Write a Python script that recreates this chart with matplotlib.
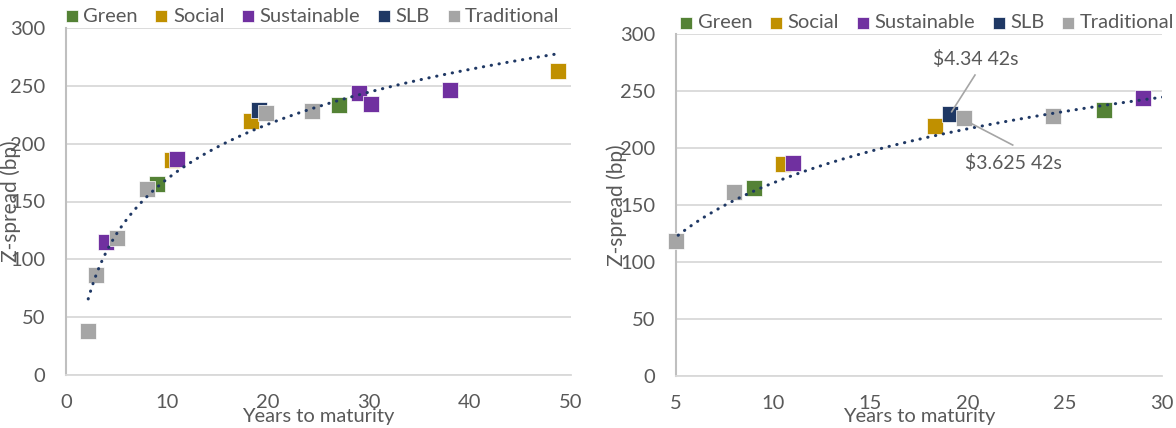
import numpy as np
import matplotlib as mpl
mpl.use('Agg')
from matplotlib import pyplot as plt

# years to maturity / z-spread (bp) by bond type
green_x = [9.0, 27.0]
green_y = [165, 233]
social_x = [10.5, 18.3, 48.7]
social_y = [186, 219.5, 263]
sust_x = [4.0, 11.0, 29.0, 30.2, 38.0]
sust_y = [115, 187, 244, 234, 246]
slb_x = [19.1]
slb_y = [229.5]
trad_x = [2.2, 3.0, 5.0, 8.0, 19.8, 24.4]
trad_y = [38, 86.5, 118.5, 161, 226.5, 228]

series = [('Green', green_x, green_y, '#548235'),
          ('Social', social_x, social_y, '#C09000'),
          ('Sustainable', sust_x, sust_y, '#7030A0'),
          ('SLB', slb_x, slb_y, '#1F3864'),
          ('Traditional', trad_x, trad_y, '#A5A5A5')]

grey = '#595959'
plt.rc('font', family=['Lato', 'DejaVu Sans'], size=14)

W, H = 1176, 428
fig = plt.figure(figsize=(W/100, H/100), dpi=100)
ax1 = fig.add_axes([66/W, 1-375/H, (571-66)/W, (375-28)/H])
ax2 = fig.add_axes([676/W, 1-376/H, (1162-676)/W, (376-34)/H])

# one logarithmic trendline through every bond
all_x = np.concatenate([s[1] for s in series])
all_y = np.concatenate([s[2] for s in series])
b, a = np.polyfit(np.log(all_x), all_y, 1)


def draw(ax, xmin, xmax, ylab_x, leg_x):
    for name, xs, ys, col in series:
        xs = np.array(xs)
        ys = np.array(ys)
        keep = (xs >= xmin) & (xs <= xmax)
        ax.scatter(xs[keep], ys[keep], marker='s', s=121, color=col,
                   edgecolor='white', linewidth=0.5, label=name, zorder=3,
                   clip_on=False)
    tx = np.linspace(all_x.min(), all_x.max(), 300)
    ax.plot(tx, a + b*np.log(tx), color='#1F3864', linewidth=2.2,
            linestyle=(0, (0.1, 2.5)), dash_capstyle='round', zorder=4)

    ax.set_xlim(xmin, xmax)
    ax.set_ylim(0, 300)
    ax.set_yticks(range(0, 301, 50))
    ax.grid(axis='y', color='#D9D9D9', linewidth=1.3)
    ax.set_axisbelow(True)
    for s in ['top', 'right']:
        ax.spines[s].set_visible(False)
    ax.spines['left'].set_color('#BFBFBF')
    ax.spines['bottom'].set_color('#D9D9D9')
    ax.spines['left'].set_linewidth(1.5)
    ax.spines['bottom'].set_linewidth(1.3)
    ax.tick_params(length=0, colors=grey, labelsize=14.5)
    ax.tick_params(axis='y', pad=15)
    ax.tick_params(axis='x', pad=14)
    ax.set_xlabel('Years to maturity', color=grey, fontsize=14.5)
    ax.xaxis.set_label_coords(0.5, -0.095)
    ax.set_ylabel('Z-spread (bp)', color=grey, fontsize=15)
    ax.yaxis.set_label_coords(ylab_x, 0.5)
    ax.yaxis.label.set_verticalalignment('center')
    ax.legend(loc='center left', bbox_to_anchor=(leg_x, 1.034), ncol=5,
              frameon=False, handlelength=0.55, handletextpad=0.3,
              columnspacing=0.9, borderaxespad=0, borderpad=0,
              fontsize=14.5, labelcolor=grey, scatterpoints=1,
              markerscale=0.73)


draw(ax1, 0, 50, -0.109, 0.0)
draw(ax2, 5, 30, -0.121, 0.01)

# callouts for the two 2042 bonds
ax2.text(20.43, 278, '$4.34 42s', ha='center', va='center', color=grey, fontsize=14)
ax2.plot([20.38, 19.18], [264, 231.8], color='#A5A5A5', lw=1.2, zorder=5)
ax2.text(22.34, 186.8, '$3.625 42s', ha='center', va='center', color=grey, fontsize=14)
ax2.plot([22.32, 20.02], [202.6, 223], color='#A5A5A5', lw=1.2, zorder=5)

plt.savefig('out.png', dpi=100)
